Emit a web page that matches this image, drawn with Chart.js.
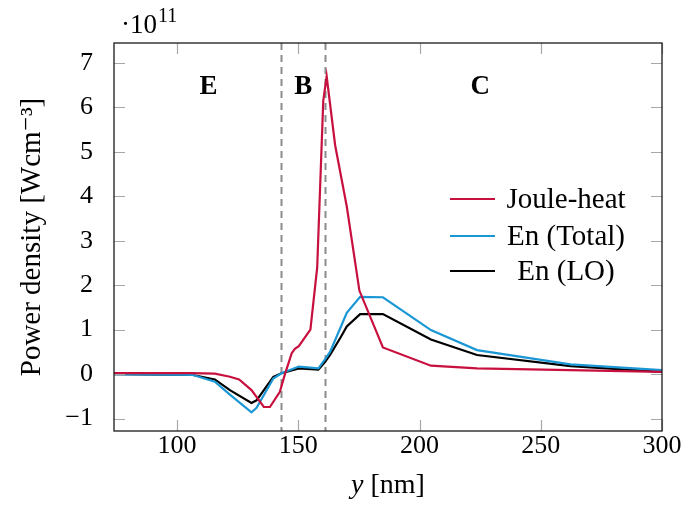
<!DOCTYPE html>
<html>
<head>
<meta charset="utf-8">
<style>
  html, body { margin: 0; padding: 0; background: #fff; }
  #wrap { width: 685px; height: 512px; }
</style>
<script src="https://cdn.jsdelivr.net/npm/chart.js@4.4.1/dist/chart.umd.min.js"></script>
</head>
<body>
<div id="wrap"><canvas id="power" width="685" height="512"></canvas></div>
<script>
// values are in units of 1e11 W/cm^3
const jouleX = [74, 106, 115.6, 121.8, 125.6, 130.7, 135.8, 138.3, 142.4, 144.5, 147.3, 148.6, 150.2, 155, 157.8, 160.3, 161.7, 165.2, 170, 175.2, 184.9, 204.7, 223.7, 300];
const jouleY = [0.02, 0.02, 0.01, -0.06, -0.12, -0.36, -0.74, -0.74, -0.4, 0.0, 0.47, 0.57, 0.63, 1.0, 2.4, 6.15, 6.7, 5.15, 3.77, 1.88, 0.6, 0.19, 0.13, 0.05];

const enX = [74, 106.6, 115.6, 121.8, 130.7, 132.8, 139.7, 143.1, 150.2, 158.3, 161, 163.1, 167.6, 170, 175.5, 184.9, 204.7, 223.7, 262.3, 300];
const totalY = [0.0, -0.02, -0.17, -0.46, -0.86, -0.76, -0.1, 0.02, 0.17, 0.13, 0.33, 0.5, 1.07, 1.38, 1.74, 1.73, 0.99, 0.54, 0.22, 0.09];
const loY = [0.0, -0.02, -0.12, -0.36, -0.65, -0.59, -0.06, 0.02, 0.13, 0.1, 0.27, 0.43, 0.84, 1.07, 1.35, 1.35, 0.78, 0.43, 0.18, 0.05];

const seriesNames = ['Joule-heat', 'En (Total)', 'En (LO)'];
const seriesColors = ['#c8103e', '#1a97d4', '#000000'];

const xTicks = [100, 150, 200, 250, 300];
const yTicks = [-1, 0, 1, 2, 3, 4, 5, 6, 7];

const regionBounds = [143, 161];
const regionNames = ['E', 'B', 'C'];
const regionNameX = [113, 152, 225];
const regionNameY = 6.45;

const serif = "'Liberation Serif', 'DejaVu Serif', serif";

function toPoints(xs, ys) {
  return xs.map((x, i) => ({ x: x, y: ys[i] }));
}

const overlay = {
  id: 'overlay',
  beforeDatasetsDraw(chart) {
    const { ctx, chartArea: a, scales: { x } } = chart;
    ctx.save();
    ctx.strokeStyle = '#8c8c8c';
    ctx.lineWidth = 2;
    ctx.setLineDash([7, 5]);
    regionBounds.forEach(v => {
      const px = Math.round(x.getPixelForValue(v)) + 0.5;
      ctx.beginPath();
      ctx.moveTo(px, a.top);
      ctx.lineTo(px, a.bottom);
      ctx.stroke();
    });
    ctx.restore();
  },
  afterDraw(chart) {
    const { ctx, chartArea: a, scales: { x, y } } = chart;
    ctx.save();

    // inward ticks on all four sides
    ctx.strokeStyle = '#a8a8a8';
    ctx.lineWidth = 1.2;
    const tl = 11;
    xTicks.forEach(v => {
      const px = Math.round(x.getPixelForValue(v)) + 0.5;
      ctx.beginPath();
      ctx.moveTo(px, a.bottom); ctx.lineTo(px, a.bottom - tl);
      ctx.moveTo(px, a.top); ctx.lineTo(px, a.top + tl);
      ctx.stroke();
    });
    yTicks.forEach(v => {
      const py = Math.round(y.getPixelForValue(v)) + 0.5;
      ctx.beginPath();
      ctx.moveTo(a.left, py); ctx.lineTo(a.left + tl, py);
      ctx.moveTo(a.right, py); ctx.lineTo(a.right - tl, py);
      ctx.stroke();
    });

    // frame
    ctx.strokeStyle = '#1a1a1a';
    ctx.lineWidth = 1.3;
    ctx.strokeRect(a.left, a.top, a.right - a.left, a.bottom - a.top);

    // region names
    ctx.fillStyle = '#000';
    ctx.font = "bold 27px 'Liberation Serif', serif";
    ctx.textAlign = 'center';
    ctx.textBaseline = 'middle';
    regionNames.forEach((n, i) => {
      ctx.fillText(n, x.getPixelForValue(regionNameX[i]), y.getPixelForValue(regionNameY));
    });

    // legend
    const legY = [199, 236, 271];
    ctx.font = '29px ' + serif;
    seriesNames.forEach((n, i) => {
      ctx.strokeStyle = seriesColors[i];
      ctx.lineWidth = 2.2;
      ctx.beginPath();
      ctx.moveTo(450, legY[i]);
      ctx.lineTo(495, legY[i]);
      ctx.stroke();
      ctx.fillStyle = '#000';
      ctx.fillText(n, 566, legY[i] + 1);
    });

    // x axis title: italic y + [nm]
    ctx.textAlign = 'left';
    ctx.textBaseline = 'alphabetic';
    ctx.font = 'italic 28px ' + serif;
    const wY = ctx.measureText('y').width;
    ctx.font = '28px ' + serif;
    const wRest = ctx.measureText(' [nm]').width;
    const x0 = (a.left + a.right) / 2 - (wY + wRest) / 2;
    ctx.font = 'italic 28px ' + serif;
    ctx.fillText('y', x0, 493);
    ctx.font = '28px ' + serif;
    ctx.fillText(' [nm]', x0 + wY, 493);

    // axis multiplier
    ctx.font = '27px ' + serif;
    ctx.fillText('\u00b710', 121, 33);
    const wMul = ctx.measureText('\u00b710').width;
    ctx.font = '20px ' + serif;
    ctx.fillText('11', 121 + wMul + 1, 22);
    ctx.restore();
  }
};

const ctxEl = document.getElementById('power').getContext('2d');
const powerChart = new Chart(ctxEl, {
  type: 'line',
  data: {
    datasets: [
      { label: seriesNames[0], data: toPoints(jouleX, jouleY) },
      { label: seriesNames[1], data: toPoints(enX, totalY) },
      { label: seriesNames[2], data: toPoints(enX, loY) },
    ].map((d, i) => Object.assign(d, {
      borderColor: seriesColors[i],
      backgroundColor: seriesColors[i],
      borderWidth: 2.2,
      pointRadius: 0,
      tension: 0,
      fill: false,
    })),
  },
  options: {
    responsive: false,
    animation: false,
    devicePixelRatio: 1,
    layout: { padding: { top: 43, right: 23, left: 0, bottom: 0 } },
    plugins: { legend: { display: false }, tooltip: { enabled: false } },
    scales: {
      x: {
        type: 'linear',
        min: 74,
        max: 300,
        grid: { display: false, drawTicks: false },
        border: { display: false },
        afterBuildTicks: s => { s.ticks = xTicks.map(v => ({ value: v })); },
        afterFit: s => { s.height = 81; },
        ticks: { color: '#000', padding: 0, font: { family: serif, size: 26 }, maxRotation: 0 },
      },
      y: {
        type: 'linear',
        min: -1.28,
        max: 7.45,
        grid: { display: false, drawTicks: false },
        border: { display: false },
        afterBuildTicks: s => { s.ticks = yTicks.map(v => ({ value: v })); },
        afterFit: s => { s.width = 114; },
        ticks: {
          color: '#000', padding: 21, font: { family: serif, size: 26 },
          callback: v => (v < 0 ? '\u2212' + Math.abs(v) : String(v)),
        },
        title: { display: true, text: 'Power density [Wcm\u207b\u00b3]', color: '#000', padding: { top: 15, bottom: 0 }, font: { family: serif, size: 29 } },
      },
    },
  },
  plugins: [overlay],
});
</script>
</body>
</html>
